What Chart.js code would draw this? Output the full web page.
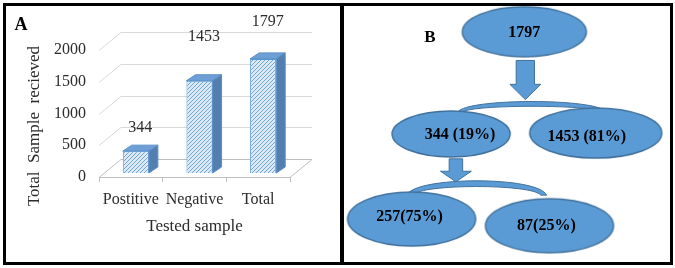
<!DOCTYPE html>
<html>
<head>
<meta charset="utf-8">
<script src="https://cdn.jsdelivr.net/npm/chart.js@4.4.0/dist/chart.umd.min.js"></script>
<style>
  body { margin: 0; background: #fff; }
  #wrap { position: relative; width: 675px; height: 268px; overflow: hidden; }
  #chartA { position: absolute; left: 0; top: 0; }
  #chartB { position: absolute; left: 340px; top: 0; }
  .frame { position: absolute; left: 3px; top: 3px; width: 670px; height: 262px; box-sizing: border-box; border: 3px solid #000; }
  .divider { position: absolute; left: 340px; top: 3px; width: 4px; height: 262px; background: #000; }
</style>
</head>
<body>
<div id="wrap">
  <canvas id="chartA" width="340" height="268"></canvas>
  <canvas id="chartB" width="335" height="268"></canvas>
  <div class="frame"></div>
  <div class="divider"></div>
</div>
<script>
// panel A data
const categories = ['Postitive', 'Negative', 'Total'];
const sampleCounts = [344, 1453, 1797];
const yTicks = [0, 500, 1000, 1500, 2000];

// panel B data (tree of the same counts)
const treeValues = [1797, 344, 1453, 257, 87];
const treeParents = [null, 0, 0, 1, 1];
const treeGaps = ['', ' ', ' ', '', ''];

Chart.defaults.font.family = "'Liberation Serif', 'Times New Roman', serif";
Chart.defaults.color = '#2b2b2b';

// ---------- panel A ----------
const DEPTH_X = 22, DEPTH_Y = -18;     // back wall offset
const SHIFT_X = 5, SHIFT_Y = -4;       // bars sit a bit behind the front plane
const FACE_X = 9, FACE_Y = -6;         // bar depth
const labelLift = [23, 44, 37];

function hatch() {
    const c = document.createElement('canvas');
    c.width = 4; c.height = 4;
    const g = c.getContext('2d');
    g.fillStyle = '#dceaf8';
    g.fillRect(0, 0, 4, 4);
    g.fillStyle = '#6fa3db';
    for (let i = 0; i < 4; i++) g.fillRect(3 - i, i, 1, 1);
    return g.createPattern(c, 'repeat');
}

const wall3d = {
    id: 'wall3d',
    beforeDatasetsDraw(chart) {
        const {ctx, chartArea: a, scales: {y}} = chart;
        ctx.save();
        ctx.lineWidth = 1;
        yTicks.forEach(v => {
            const py = Math.round(y.getPixelForValue(v)) + 0.5;
            ctx.strokeStyle = v === 0 ? '#bfbfbf' : '#d9d9d9';
            ctx.beginPath();
            ctx.moveTo(a.left, py);
            ctx.lineTo(a.left + DEPTH_X, py + DEPTH_Y);
            ctx.lineTo(a.right + DEPTH_X, py + DEPTH_Y);
            if (v === 0) ctx.lineTo(a.right, py);
            ctx.stroke();
        });
        ctx.restore();
        ctx.save();
        ctx.translate(SHIFT_X, SHIFT_Y);
    },
    afterDatasetsDraw(chart) {
        const {ctx} = chart;
        const bars = chart.getDatasetMeta(0).data;
        bars.forEach(bar => {
            const x0 = bar.x - bar.width / 2, x1 = bar.x + bar.width / 2;
            const yt = bar.y, yb = bar.base;
            ctx.lineWidth = 1;
            ctx.strokeStyle = '#5b8fc8';
            ctx.fillStyle = '#6d9fd6';
            ctx.beginPath();
            ctx.moveTo(x0, yt); ctx.lineTo(x1, yt);
            ctx.lineTo(x1 + FACE_X, yt + FACE_Y); ctx.lineTo(x0 + FACE_X, yt + FACE_Y);
            ctx.closePath(); ctx.fill(); ctx.stroke();
            ctx.fillStyle = '#527fb0';
            ctx.beginPath();
            ctx.moveTo(x1, yt); ctx.lineTo(x1 + FACE_X, yt + FACE_Y);
            ctx.lineTo(x1 + FACE_X, yb + FACE_Y); ctx.lineTo(x1, yb);
            ctx.closePath(); ctx.fill(); ctx.stroke();
        });
        ctx.restore();

        ctx.save();
        ctx.font = "16px 'Liberation Serif'";
        ctx.fillStyle = '#2b2b2b';
        ctx.textAlign = 'center';
        ctx.textBaseline = 'middle';
        bars.forEach((bar, i) => {
            ctx.fillText(String(sampleCounts[i]), bar.x + SHIFT_X + FACE_X / 2, bar.y + SHIFT_Y - labelLift[i]);
        });
        ctx.restore();
    },
    afterDraw(chart) {
        const {ctx} = chart;
        ctx.save();
        ctx.font = "17px 'Liberation Serif'";
        ctx.fillStyle = '#2b2b2b';
        ctx.textAlign = 'center';
        ctx.textBaseline = 'middle';
        ctx.translate(35, 126);
        ctx.rotate(-Math.PI / 2);
        ctx.fillText('Total  Sample  recieved', 0, 0);
        ctx.restore();
        ctx.save();
        ctx.font = "bold 18px 'Liberation Serif'";
        ctx.fillStyle = '#000';
        ctx.textAlign = 'center';
        ctx.textBaseline = 'middle';
        ctx.fillText('A', 21, 25);
        ctx.restore();
    }
};

new Chart(document.getElementById('chartA'), {
    type: 'bar',
    data: {
        labels: categories,
        datasets: [{
            data: sampleCounts,
            backgroundColor: hatch(),
            borderColor: '#5b9bd5',
            borderWidth: 1,
            categoryPercentage: 1,
            barPercentage: 0.41
        }]
    },
    options: {
        responsive: false,
        animation: false,
        events: [],
        layout: { padding: { left: 39, right: 50, top: 50, bottom: 31 } },
        plugins: { legend: { display: false }, tooltip: { enabled: false } },
        scales: {
            x: {
                grid: { display: true, drawOnChartArea: false, drawTicks: true, tickLength: 5, offset: true, color: '#bfbfbf' },
                border: { display: true, color: '#bfbfbf' },
                ticks: { font: { size: 16 }, padding: 8, maxRotation: 0, autoSkip: false },
                title: { display: true, text: 'Tested sample', font: { size: 17 }, padding: { top: 7, bottom: 0 } },
                afterFit: s => { s.height = 60; }
            },
            y: {
                min: 0,
                max: 2000,
                grid: { display: false, drawTicks: false },
                border: { display: false },
                ticks: { font: { size: 16 }, padding: 13, callback: v => String(v) },
                afterBuildTicks: s => { s.ticks = yTicks.map(v => ({ value: v })); },
                afterFit: s => { s.width = 60; }
            }
        }
    },
    plugins: [wall3d]
});

// ---------- panel B ----------
const FILL = '#5b9bd5', EDGE = '#41719c';
// node layout in page pixels: centre, radii, text offset
const nodeLayout = [
    { x: 525, y: 27, rx: 62, ry: 25, tx: 0, ty: 1 },
    { x: 449, y: 134, rx: 59, ry: 23, tx: 9, ty: 1 },
    { x: 599, y: 133, rx: 66, ry: 25, tx: -9, ty: 4 },
    { x: 408, y: 223, rx: 64, ry: 27, tx: -2, ty: -2 },
    { x: 551, y: 230, rx: 64, ry: 27, tx: -3, ty: 0 }
];
const arrowLayout = [
    { x: 526, y0: 57, y1: 98, shaft: 19, head: 32, headLen: 16 },
    { x: 454, y0: 160, y1: 184, shaft: 14, head: 32, headLen: 11 }
];
const braceLayout = [
    { x0: 456, x1: 610, yEnd: 111, yPeak: 100, t: 5 },
    { x0: 403, x1: 548, yEnd: 198, yPeak: 183, t: 6 }
];

function ellipseImage(rx, ry) {
    const c = document.createElement('canvas');
    c.width = 2 * rx + 4; c.height = 2 * ry + 4;
    const g = c.getContext('2d');
    g.beginPath();
    g.ellipse(rx + 2, ry + 2, rx, ry, 0, 0, Math.PI * 2);
    g.fillStyle = FILL; g.fill();
    g.lineWidth = 1.5; g.strokeStyle = EDGE; g.stroke();
    return c;
}

function nodeLabel(i) {
    const p = treeParents[i];
    if (p === null) return String(treeValues[i]);
    const pct = Math.round(treeValues[i] / treeValues[p] * 100);
    return treeValues[i] + treeGaps[i] + '(' + pct + '%)';
}

const flow = {
    id: 'flow',
    beforeDatasetsDraw(chart) {
        const {ctx, scales: {x, y}} = chart;
        ctx.save();
        ctx.fillStyle = FILL;
        ctx.strokeStyle = EDGE;
        ctx.lineWidth = 1;
        braceLayout.forEach(b => {
            const k = (b.x1 - b.x0) * 0.06;
            const yc = b.yEnd - (b.yEnd - b.yPeak) / 0.75;
            const yi = yc + b.t / 0.75;
            ctx.beginPath();
            ctx.moveTo(x.getPixelForValue(b.x0), y.getPixelForValue(b.yEnd));
            ctx.bezierCurveTo(x.getPixelForValue(b.x0 + k), y.getPixelForValue(yc),
                x.getPixelForValue(b.x1 - k), y.getPixelForValue(yc),
                x.getPixelForValue(b.x1), y.getPixelForValue(b.yEnd));
            ctx.lineTo(x.getPixelForValue(b.x1 - b.t), y.getPixelForValue(b.yEnd));
            ctx.bezierCurveTo(x.getPixelForValue(b.x1 - b.t - k), y.getPixelForValue(yi),
                x.getPixelForValue(b.x0 + b.t + k), y.getPixelForValue(yi),
                x.getPixelForValue(b.x0 + b.t), y.getPixelForValue(b.yEnd));
            ctx.closePath();
            ctx.fill(); ctx.stroke();
        });
        arrowLayout.forEach(a => {
            const yh = a.y1 - a.headLen;
            const pts = [
                [a.x - a.shaft / 2, a.y0], [a.x + a.shaft / 2, a.y0], [a.x + a.shaft / 2, yh],
                [a.x + a.head / 2, yh], [a.x, a.y1], [a.x - a.head / 2, yh], [a.x - a.shaft / 2, yh]
            ];
            ctx.beginPath();
            pts.forEach((p, i) => {
                const px = x.getPixelForValue(p[0]), py = y.getPixelForValue(p[1]);
                if (i === 0) ctx.moveTo(px, py); else ctx.lineTo(px, py);
            });
            ctx.closePath();
            ctx.fill(); ctx.stroke();
        });
        ctx.restore();
    },
    afterDatasetsDraw(chart) {
        const {ctx} = chart;
        const pts = chart.getDatasetMeta(0).data;
        ctx.save();
        ctx.font = "bold 16px 'Liberation Serif'";
        ctx.fillStyle = '#000';
        ctx.textAlign = 'center';
        ctx.textBaseline = 'middle';
        pts.forEach((pt, i) => {
            ctx.fillText(nodeLabel(i), pt.x + nodeLayout[i].tx, pt.y + nodeLayout[i].ty);
        });
        ctx.font = "bold 17px 'Liberation Serif'";
        ctx.fillText('B', chart.scales.x.getPixelForValue(427), chart.scales.y.getPixelForValue(33));
        ctx.restore();
    }
};

new Chart(document.getElementById('chartB'), {
    type: 'scatter',
    data: {
        datasets: [{
            data: nodeLayout.map(n => ({ x: n.x, y: n.y })),
            pointStyle: nodeLayout.map(n => ellipseImage(n.rx, n.ry)),
            pointRadius: 5
        }]
    },
    options: {
        responsive: false,
        animation: false,
        events: [],
        layout: { padding: 0 },
        plugins: { legend: { display: false }, tooltip: { enabled: false } },
        scales: {
            x: { type: 'linear', min: 340, max: 675, display: false },
            y: { type: 'linear', min: 0, max: 268, reverse: true, display: false }
        }
    },
    plugins: [flow]
});
</script>
</body>
</html>
